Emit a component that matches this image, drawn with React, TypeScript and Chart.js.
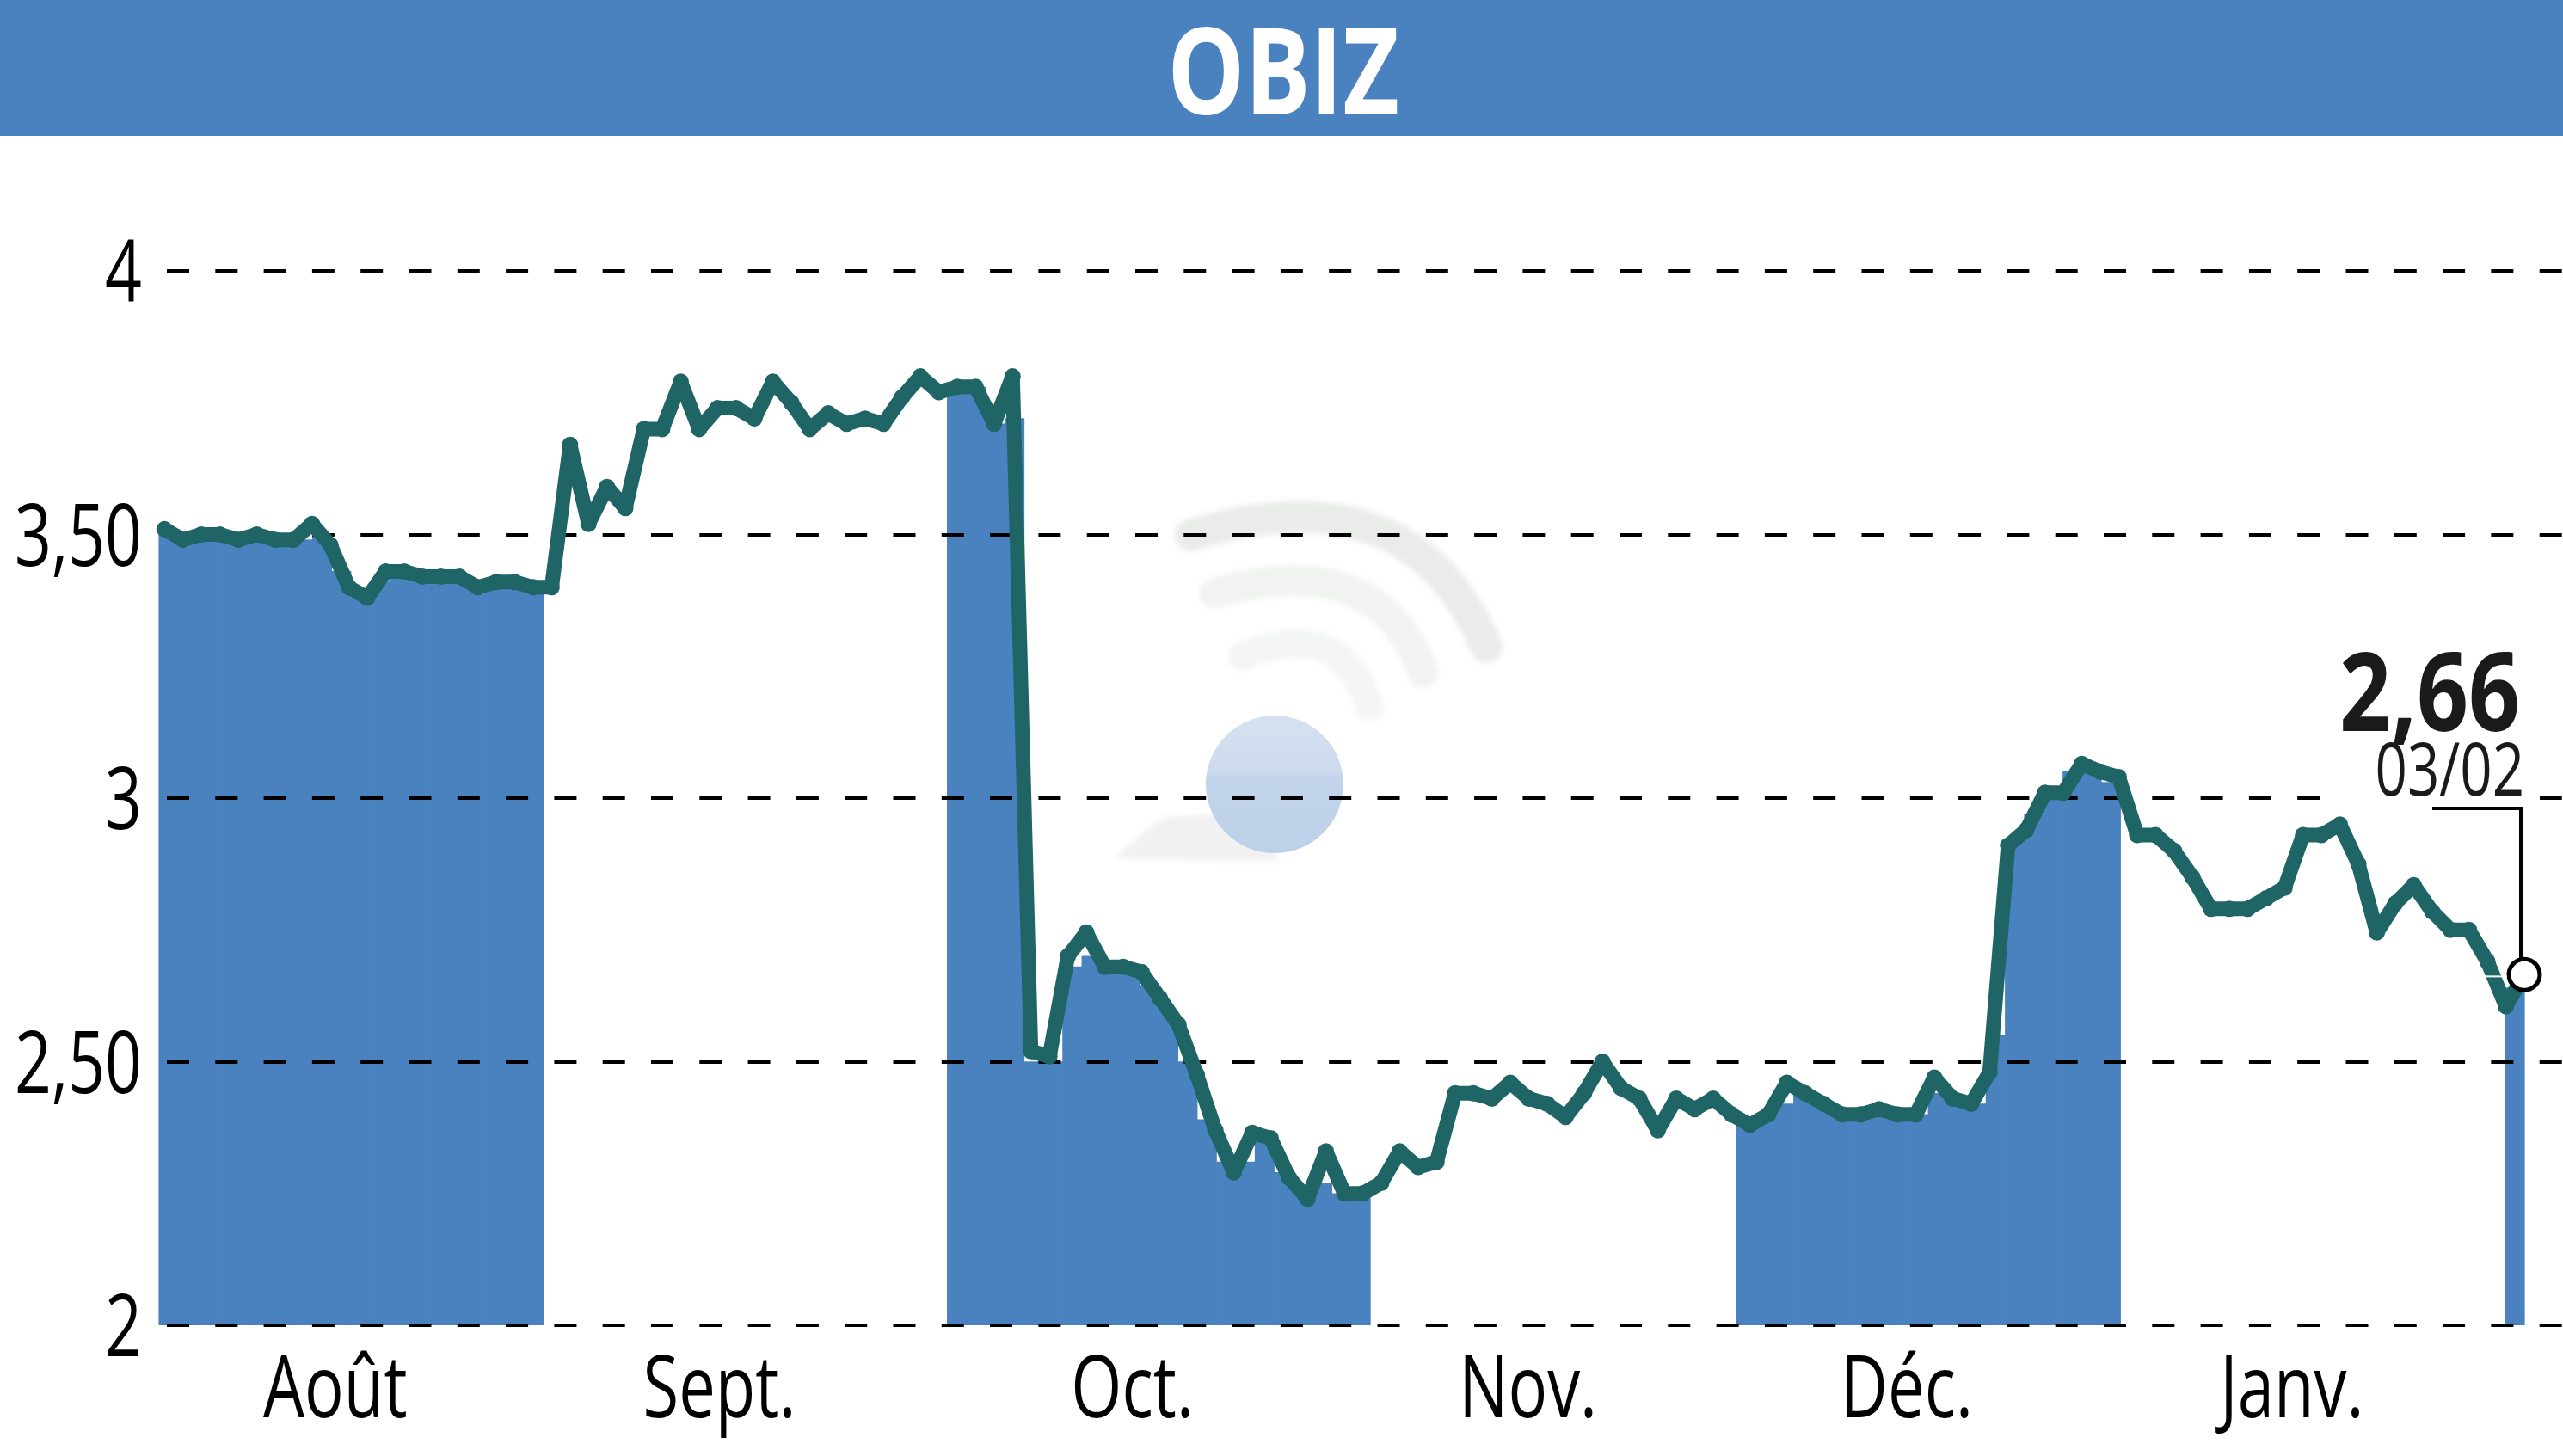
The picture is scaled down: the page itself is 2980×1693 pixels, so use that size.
import React, { useEffect, useRef } from "react";
import { Chart, registerables } from "chart.js";

Chart.register(...registerables);

const FONT = '"Open Sans", "Liberation Sans", sans-serif';
const BLUE = "#4a82bf";
const TEAL = "#1f6566";

const titleText = "OBIZ";
const lastValueText = "2,66";
const lastDateText = "03/02";

const monthLabels = ["Août", "Sept.", "Oct.", "Nov.", "Déc.", "Janv."];
const monthTickPositions = [9.26, 30.1, 52.5, 73.96, 94.5, 115.4];
const yTickLabels: Record<string, string> = { "2": "2", "2.5": "2,50", "3": "3", "3.5": "3,50", "4": "4" };

const lineValues = [
  3.51, 3.49, 3.5, 3.5, 3.49, 3.5, 3.49, 3.49, 3.52, 3.48, 3.4, 3.38, 3.43, 3.43, 3.42, 3.42, 3.42, 3.4, 3.41, 3.41,
  3.4, 3.4, 3.67, 3.52, 3.59, 3.55, 3.7, 3.7, 3.79, 3.7, 3.74, 3.74, 3.72, 3.79, 3.75, 3.7, 3.73, 3.71, 3.72, 3.71,
  3.76, 3.8, 3.77, 3.78, 3.78, 3.71, 3.8, 2.52, 2.51, 2.7, 2.745, 2.68, 2.68, 2.67, 2.62, 2.57, 2.475, 2.37, 2.29,
  2.365, 2.355, 2.28, 2.24, 2.33, 2.25, 2.25, 2.27, 2.33, 2.3, 2.31, 2.44, 2.44, 2.43, 2.46, 2.43, 2.42, 2.395, 2.44,
  2.5, 2.45, 2.43, 2.37, 2.43, 2.41, 2.43, 2.4, 2.38, 2.4, 2.46, 2.44, 2.42, 2.4, 2.4, 2.41, 2.4, 2.4, 2.47, 2.43,
  2.42, 2.48, 2.91, 2.94, 3.01, 3.01, 3.065, 3.05, 3.04, 2.93, 2.93, 2.9, 2.85, 2.79, 2.79, 2.79, 2.81, 2.83, 2.93,
  2.93, 2.95, 2.875, 2.745, 2.8, 2.835, 2.785, 2.75, 2.75, 2.69, 2.605, 2.665,
];

const augustFill = [3.5, 3.49, 3.5, 3.49, 3.49, 3.49, 3.49, 3.49, 3.5, 3.43, 3.38, 3.41, 3.43, 3.42, 3.42, 3.42, 3.4, 3.41, 3.41, 3.4];
const septemberGap = 21;
const octoberFill = [3.78, 3.78, 3.71, 3.72, 2.5, 2.5, 2.68, 2.7, 2.67, 2.67, 2.645, 2.595, 2.5, 2.39, 2.31, 2.31, 2.35, 2.29, 2.25, 2.27, 2.25, 2.25];
const novemberGap = 19;
const decemberFill = [2.38, 2.39, 2.42, 2.44, 2.42, 2.4, 2.4, 2.4, 2.4, 2.4, 2.44, 2.43, 2.42, 2.55, 2.92, 2.97, 3.01, 3.05, 3.05, 3.03];
const januaryGap = 20;
const februaryFill = [2.64];
const trailingGap = 2;

const gap = (n: number) => new Array(n).fill(null);
const barValues = [
  ...augustFill, ...gap(septemberGap), ...octoberFill, ...gap(novemberGap),
  ...decemberFill, ...gap(januaryGap), ...februaryFill, ...gap(trailingGap),
];
const barLabels = barValues.map((_, i) => String(i));

function narrowText(c: any, text: string, x: number, y: number, font: string, align: string, sx: number, color: string) {
  c.save();
  c.translate(x, y);
  c.scale(sx, 1);
  c.font = font;
  c.textAlign = align;
  c.textBaseline = "alphabetic";
  c.fillStyle = color;
  c.fillText(text, 0, 0);
  c.restore();
}

const logoPlugin = {
  id: "logo",
  beforeDatasetsDraw(chart: any) {
    const c = chart.ctx;
    c.save();
    c.filter = "blur(3px)";
    c.fillStyle = "#f1f1f1";
    c.beginPath();
    c.moveTo(1296, 998);
    c.quadraticCurveTo(1330, 965, 1355, 950);
    c.lineTo(1440, 945);
    c.lineTo(1490, 1002);
    c.closePath();
    c.fill();
    c.lineCap = "round";
    const arc = (col: string, w: number, a: number[], b: number[], d: number[]) => {
      c.strokeStyle = col;
      c.lineWidth = w;
      c.beginPath();
      c.moveTo(a[0], a[1]);
      c.quadraticCurveTo(b[0], b[1], d[0], d[1]);
      c.stroke();
    };
    arc("#eaecea", 38, [1385, 622], [1640, 545], [1728, 752]);
    arc("#f0f3f0", 36, [1412, 690], [1600, 635], [1655, 782]);
    arc("#f4f6f5", 34, [1445, 763], [1560, 715], [1592, 822]);
    c.filter = "none";
    const g = c.createLinearGradient(0, 832, 0, 992);
    g.addColorStop(0, "#d6e1f0");
    g.addColorStop(0.4, "#cddbed");
    g.addColorStop(0.45, "#c2d4ea");
    g.addColorStop(1, "#bdd1e8");
    c.fillStyle = g;
    c.beginPath();
    c.arc(1482, 912, 80, 0, Math.PI * 2);
    c.fill();
    c.restore();
  },
};

const gridPlugin = {
  id: "dashedGrid",
  afterDatasetDraw(chart: any, args: any) {
    if (args.index !== 0) return;
    const c = chart.ctx;
    const y = chart.scales.y;
    const area = chart.chartArea;
    c.save();
    c.strokeStyle = "#000";
    c.lineWidth = 4;
    c.setLineDash([26, 30.3]);
    y.ticks.forEach((t: any) => {
      const py = Math.round(y.getPixelForValue(t.value));
      c.beginPath();
      c.moveTo(194, py);
      c.lineTo(area.right, py);
      c.stroke();
    });
    c.setLineDash([]);
    c.fillStyle = "#fff";
    c.fillRect(2697, 745, 256, 195);
    c.restore();
  },
};

const calloutPlugin = {
  id: "callout",
  afterDatasetsDraw(chart: any) {
    const c = chart.ctx;
    const pts = chart.getDatasetMeta(1).data;
    const p = pts[pts.length - 1];
    c.save();
    c.strokeStyle = "#000";
    c.lineWidth = 4;
    c.beginPath();
    c.moveTo(2828, 940);
    c.lineTo(2931, 940);
    c.lineTo(2931, p.y - 18);
    c.stroke();
    c.strokeStyle = "#fff";
    c.lineWidth = 2;
    c.beginPath();
    c.moveTo(p.x - 46, p.y + 2);
    c.lineTo(p.x - 20, p.y + 2);
    c.stroke();
    c.restore();
    narrowText(c, lastValueText, 2930, 850, `bold 128px ${FONT}`, "right", 0.82, "#1a1a1a");
    narrowText(c, lastDateText, 2935, 925, `86px ${FONT}`, "right", 0.76, "#1a1a1a");
  },
};

const textPlugin = {
  id: "texts",
  beforeDraw(chart: any) {
    const c = chart.ctx;
    c.save();
    c.fillStyle = BLUE;
    c.fillRect(0, 0, chart.width, 158);
    c.restore();
  },
  afterDraw(chart: any) {
    const c = chart.ctx;
    narrowText(c, titleText, 1492, 133, `bold 140px ${FONT}`, "center", 0.81, "#fff");
    const y = chart.scales.y;
    y.ticks.forEach((t: any) => {
      narrowText(c, t.label, 165, y.getPixelForValue(t.value) + 36, `100px ${FONT}`, "right", 0.75, "#000");
    });
    const x = chart.scales.x;
    x.ticks.forEach((t: any) => {
      narrowText(c, t.label, x.getPixelForValue(t.value), 1648, `100px ${FONT}`, "center", 0.76, "#000");
    });
  },
};

export default function App() {
  const ref = useRef<HTMLCanvasElement>(null);
  useEffect(() => {
    if (!ref.current) return;
    const last = lineValues.length - 1;
    const chart = new Chart(ref.current, {
      type: "bar",
      data: {
        labels: barLabels,
        datasets: [
          {
            type: "bar",
            data: barValues,
            xAxisID: "xBars",
            yAxisID: "y",
            backgroundColor: BLUE,
            borderWidth: 0,
            grouped: false,
            barPercentage: 1,
            categoryPercentage: 1,
            order: 2,
          },
          {
            type: "line",
            data: lineValues.map((v, i) => ({ x: i, y: v })),
            xAxisID: "x",
            yAxisID: "y",
            borderColor: TEAL,
            borderWidth: 17,
            tension: 0,
            borderJoinStyle: "round",
            clip: false,
            pointRadius: (ctx: any) => (ctx.dataIndex === last ? 18 : 9.5),
            pointBackgroundColor: (ctx: any) => (ctx.dataIndex === last ? "#fff" : TEAL),
            pointBorderColor: (ctx: any) => (ctx.dataIndex === last ? "#000" : TEAL),
            pointBorderWidth: (ctx: any) => (ctx.dataIndex === last ? 5 : 0),
            order: 1,
          },
        ],
      } as any,
      options: {
        animation: false,
        responsive: false,
        devicePixelRatio: 1,
        layout: { autoPadding: false, padding: { top: 315, left: 0, right: 0, bottom: 0 } },
        plugins: {
          legend: { display: false },
          tooltip: { enabled: false },
          title: { display: false },
        },
        scales: {
          x: {
            type: "linear",
            position: "bottom",
            offset: false,
            min: -0.32,
            max: 130.1,
            grid: { display: false, drawTicks: false, offset: false },
            border: { display: false },
            afterBuildTicks: (s: any) => {
              s.ticks = monthTickPositions.map((value) => ({ value }));
            },
            afterFit: (s: any) => {
              s.height = 152;
            },
            ticks: {
              display: false,
              autoSkip: false,
              maxRotation: 0,
              callback: (_: any, i: number) => monthLabels[i],
            },
          },
          xBars: { type: "category", position: "bottom", display: false, offset: true, grid: { display: false } },
          y: {
            type: "linear",
            min: 2,
            max: 4,
            grid: { display: false, drawTicks: false },
            border: { display: false },
            afterFit: (s: any) => {
              s.width = 184.4;
            },
            ticks: {
              display: false,
              stepSize: 0.5,
              callback: (v: any) => yTickLabels[String(v)],
            },
          },
        },
      } as any,
      plugins: [textPlugin, logoPlugin, gridPlugin, calloutPlugin],
    });
    return () => chart.destroy();
  }, []);
  return (
    <canvas
      ref={ref}
      width={2980}
      height={1693}
      style={{ position: "fixed", left: 0, top: 0, width: 2980, height: 1693, display: "block" }}
    />
  );
}
